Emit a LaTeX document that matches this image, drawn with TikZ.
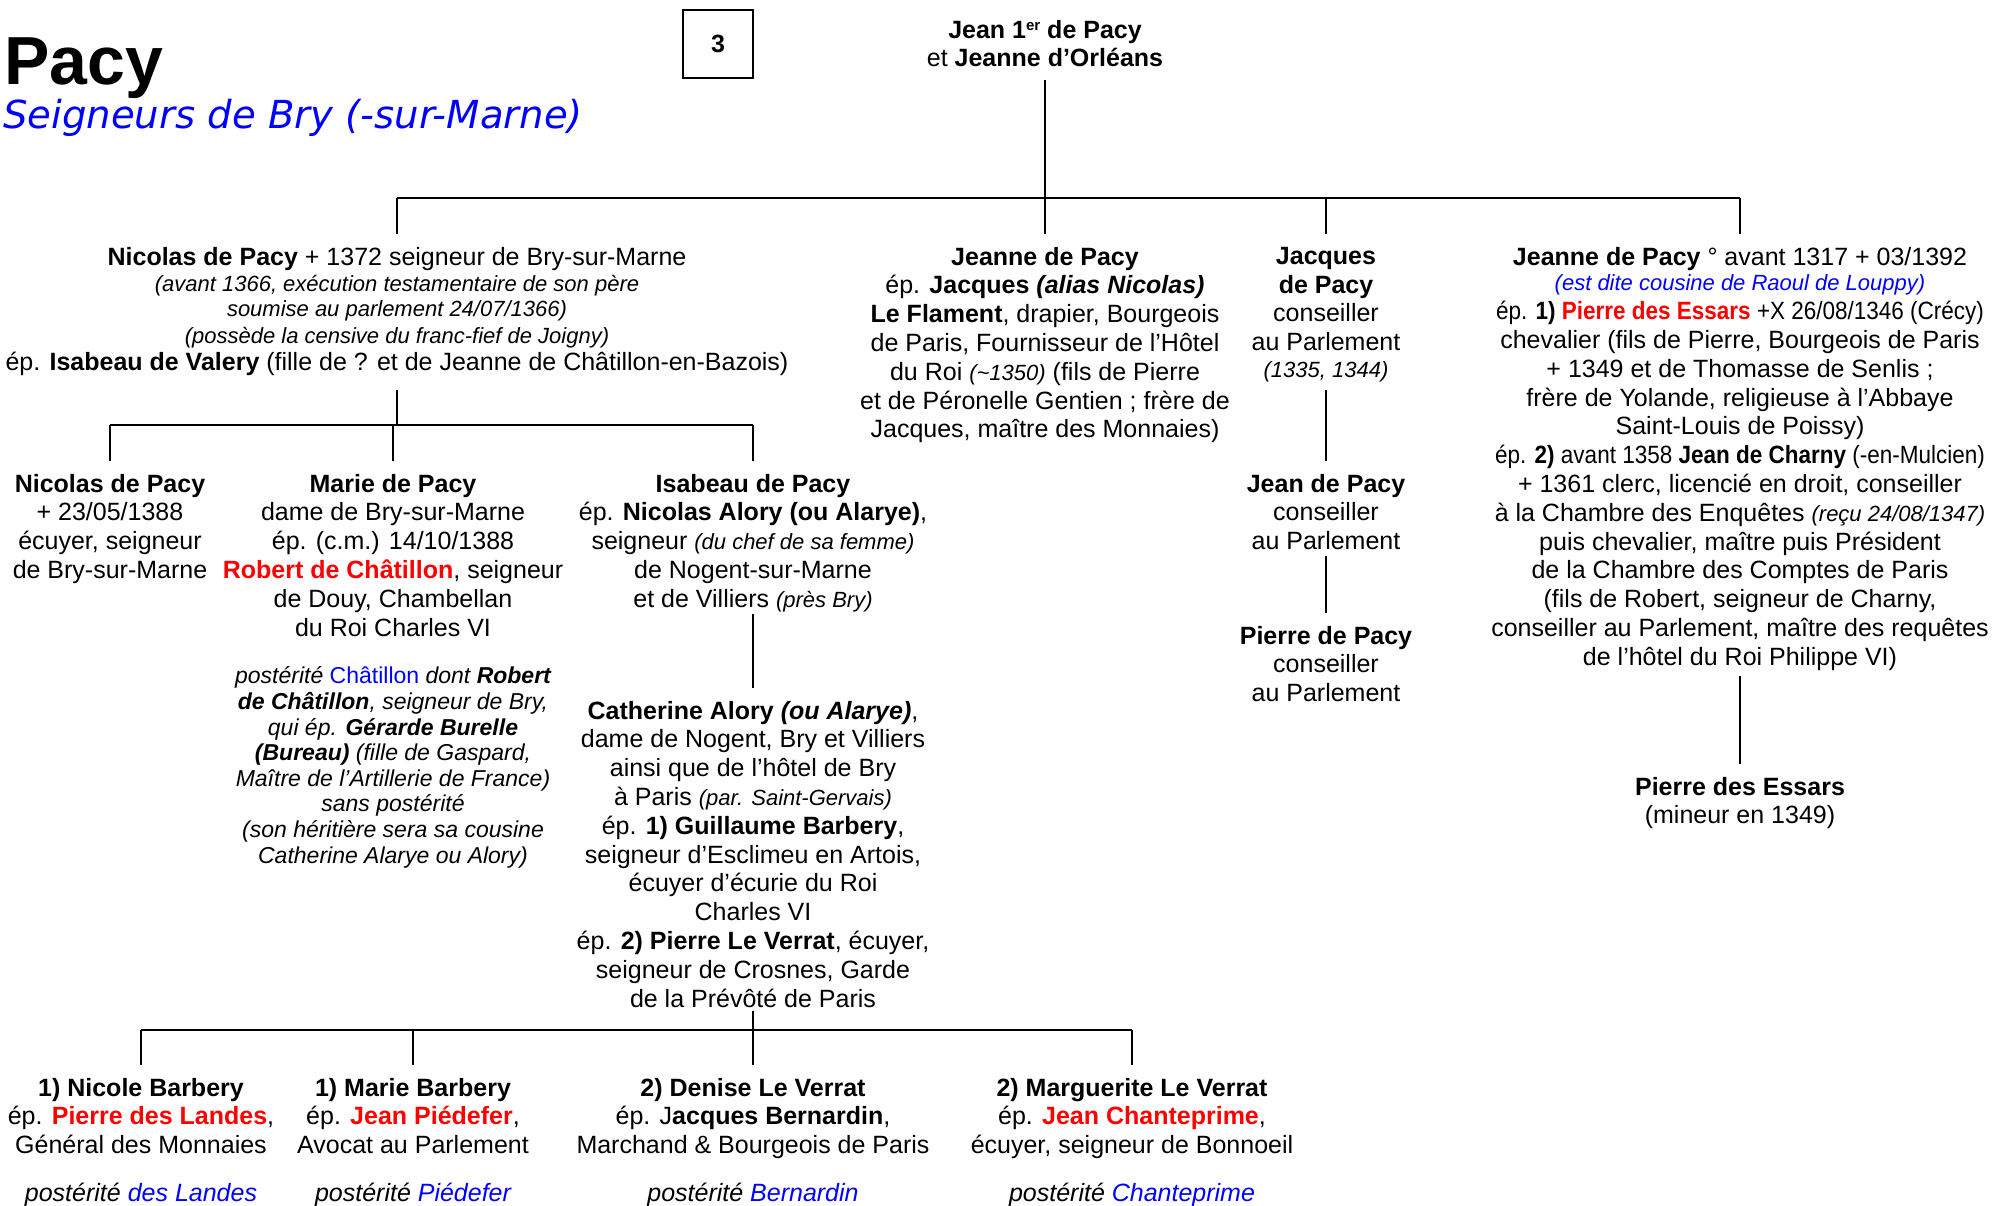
\documentclass[tikz,border=0pt]{standalone}
\usepackage{fontspec}
\setmainfont{Liberation Sans}
\newfontfamily\etroite{Liberation Sans}[FakeStretch=0.9]
\newfontfamily\dejavu{DejaVu Sans}[ItalicFont={DejaVu Sans Oblique}]
\definecolor{rouge}{RGB}{255,0,0}
\definecolor{bleu}{RGB}{0,0,255}
\newcommand{\petit}[1]{{\fontsize{22}{25}\selectfont\itshape #1}}
\newcommand{\nomrouge}[1]{\textcolor{rouge}{\textbf{#1}}}
\newcommand{\nombleu}[1]{\textcolor{bleu}{#1}}
\tikzset{
  pers/.style={align=center, anchor=north, inner sep=0pt, outer ysep=13pt,
    font=\fontsize{25}{28.8}\selectfont, execute at begin node=\strut},
  lien/.style={line width=2pt},
}
\begin{document}
\begin{tikzpicture}[x=1pt, y=-1pt]
  \useasboundingbox (0,0) rectangle (2007,1205);
  % titre
  \node[anchor=base west, inner sep=0pt, font=\fontsize{68}{80}\selectfont\bfseries] (titre) at (4,84) {Pacy};
  \node[anchor=base west, inner sep=0pt, text=bleu, font=\dejavu\fontsize{38.6}{46}\selectfont\itshape] (soustitre) at (3,128) {Seigneurs de Bry (-sur-Marne)};
  \node[draw, line width=1.5pt, minimum width=70pt, minimum height=68pt, font=\fontsize{25}{30}\selectfont\bfseries] (numero) at (718,44) {3};
  % generation 1
  \node[pers] (racine) at (1045,7) {\textbf{Jean 1{\fontsize{15}{15}\selectfont\raisebox{8pt}{er}} de Pacy}\\ et \textbf{Jeanne d’Orléans}};
  % generation 2
  \node[pers] (nicolas) at (397,234) {\textbf{Nicolas de Pacy} + 1372 seigneur de Bry-sur-Marne\\[-2pt]
    \petit{(avant 1366, exécution testamentaire de son père}\\[-4pt]
    \petit{soumise au parlement 24/07/1366)}\\[-2pt]
    \petit{(possède la censive du franc-fief de Joigny)}\\[-2pt]
    ép. \textbf{Isabeau de Valery} (fille de ? et de Jeanne de Châtillon-en-Bazois)};
  \node[pers] (jeanneF) at (1045,234) {\textbf{Jeanne de Pacy}\\
    ép. \textbf{Jacques \textit{(alias Nicolas)}}\\
    \textbf{Le Flament}, drapier, Bourgeois\\
    de Paris, Fournisseur de l’Hôtel\\
    du Roi \petit{(\textasciitilde1350)} (fils de Pierre\\
    et de Péronelle Gentien ; frère de\\
    Jacques, maître des Monnaies)};
  \node[pers] (jacques) at (1326,234) {\textbf{Jacques}\\ \textbf{de Pacy}\\ conseiller\\ au Parlement\\[-2pt] \petit{(1335, 1344)}};
  \node[pers] (jeanneE) at (1740,234) {\textbf{Jeanne de Pacy} ° avant 1317 + 03/1392\\[-3pt]
    \nombleu{\petit{(est dite cousine de Raoul de Louppy)}}\\
    {\etroite ép. \textbf{1)} \nomrouge{Pierre des Essars} +X 26/08/1346 (Crécy)}\\
    chevalier (fils de Pierre, Bourgeois de Paris\\
    + 1349 et de Thomasse de Senlis ;\\
    frère de Yolande, religieuse à l’Abbaye\\
    Saint-Louis de Poissy)\\
    {\etroite ép. \textbf{2)} avant 1358 \textbf{Jean de Charny} (-en-Mulcien)}\\
    + 1361 clerc, licencié en droit, conseiller\\
    à la Chambre des Enquêtes \petit{(reçu 24/08/1347)}\\
    puis chevalier, maître puis Président\\
    de la Chambre des Comptes de Paris\\
    (fils de Robert, seigneur de Charny,\\
    conseiller au Parlement, maître des requêtes\\
    de l’hôtel du Roi Philippe VI)};
  % generation 3
  \node[pers] (nicolasB) at (110,461) {\textbf{Nicolas de Pacy}\\ + 23/05/1388\\ écuyer, seigneur\\ de Bry-sur-Marne};
  \node[pers] (marie) at (393,461) {\textbf{Marie de Pacy}\\ dame de Bry-sur-Marne\\ ép. (c.m.) 14/10/1388\\
    \nomrouge{Robert de Châtillon}, seigneur\\ de Douy, Chambellan\\ du Roi Charles VI};
  \node[pers, font=\fontsize{23}{25.6}\selectfont\itshape] (postChat) at (393,654) {postérité \nombleu{\textup{Châtillon}} dont \textbf{Robert}\\
    \textbf{de Châtillon}, seigneur de Bry,\\
    qui ép. \textbf{Gérarde Burelle}\\
    \textbf{(Bureau)} (fille de Gaspard,\\
    Maître de l’Artillerie de France)\\
    sans postérité\\
    (son héritière sera sa cousine\\
    Catherine Alarye ou Alory)};
  \node[pers] (isabeau) at (753,461) {\textbf{Isabeau de Pacy}\\ ép. \textbf{Nicolas Alory (ou Alarye)},\\
    seigneur \petit{(du chef de sa femme)}\\ de Nogent-sur-Marne\\ et de Villiers \petit{(près Bry)}};
  \node[pers] (jeanP) at (1326,461) {\textbf{Jean de Pacy}\\ conseiller\\ au Parlement};
  \node[pers] (pierreP) at (1326,613) {\textbf{Pierre de Pacy}\\ conseiller\\ au Parlement};
  \node[pers] (pierreE) at (1740,764) {\textbf{Pierre des Essars}\\ (mineur en 1349)};
  % generation 4
  \node[pers] (catherine) at (753,688) {\textbf{Catherine Alory \textit{(ou Alarye)}},\\
    dame de Nogent, Bry et Villiers\\
    ainsi que de l’hôtel de Bry\\
    à Paris \petit{(par. Saint-Gervais)}\\
    ép. \textbf{1) Guillaume Barbery},\\
    seigneur d’Esclimeu en Artois,\\
    écuyer d’écurie du Roi\\
    Charles VI\\
    ép. \textbf{2) Pierre Le Verrat}, écuyer,\\
    seigneur de Crosnes, Garde\\
    de la Prévôté de Paris};
  % generation 5
  \node[pers] (nicole) at (141,1065) {\textbf{1) Nicole Barbery}\\ ép. \nomrouge{Pierre des Landes},\\ Général des Monnaies\\[19pt]
    \textit{postérité \nombleu{des Landes}}};
  \node[pers] (marieB) at (413,1065) {\textbf{1) Marie Barbery}\\ ép. \nomrouge{Jean Piédefer},\\ Avocat au Parlement\\[19pt]
    \textit{postérité \nombleu{Piédefer}}};
  \node[pers] (denise) at (753,1065) {\textbf{2) Denise Le Verrat}\\ ép. J\textbf{acques Bernardin},\\ Marchand \& Bourgeois de Paris\\[19pt]
    \textit{postérité \nombleu{Bernardin}}};
  \node[pers] (marguerite) at (1132,1065) {\textbf{2) Marguerite Le Verrat}\\ ép. \nomrouge{Jean Chanteprime},\\ écuyer, seigneur de Bonnoeil\\[19pt]
    \textit{postérité \nombleu{Chanteprime}}};
  % liens
  \coordinate (bus1) at (0,198);
  \coordinate (bus2) at (0,425);
  \coordinate (bus3) at (0,1030);
  \coordinate (racineBas) at (1045,80);     % sous le texte des parents
  \coordinate (nicolasBas) at (397,390);
  \coordinate (jacquesBas) at (1326,390);
  \coordinate (jeanPBas) at (1326,556);
  \coordinate (jeanneEBas) at (1740,676);
  \coordinate (isabeauBas) at (753,614);
  \coordinate (catherineBas) at (753,1011);
  \draw[lien] (racineBas) -- (racineBas |- bus1);
  \draw[lien] (nicolas.north |- bus1) -- (jeanneE.north |- bus1);
  \foreach \n in {nicolas,jeanneF,jacques,jeanneE}
    \draw[lien] (\n.north |- bus1) -- (\n.north);
  \draw[lien] (nicolasBas) -- (nicolasBas |- bus2);
  \draw[lien] (nicolasB.north |- bus2) -- (isabeau.north |- bus2);
  \foreach \n in {nicolasB,marie,isabeau}
    \draw[lien] (\n.north |- bus2) -- (\n.north);
  \draw[lien] (isabeauBas) -- (catherine.north);
  \draw[lien] (jacquesBas) -- (jeanP.north);
  \draw[lien] (jeanPBas) -- (pierreP.north);
  \draw[lien] (jeanneEBas) -- (pierreE.north);
  \draw[lien] (catherineBas) -- (catherineBas |- bus3);
  \draw[lien] (nicole.north |- bus3) -- (marguerite.north |- bus3);
  \foreach \n in {nicole,marieB,denise,marguerite}
    \draw[lien] (\n.north |- bus3) -- (\n.north);
\end{tikzpicture}
\end{document}
